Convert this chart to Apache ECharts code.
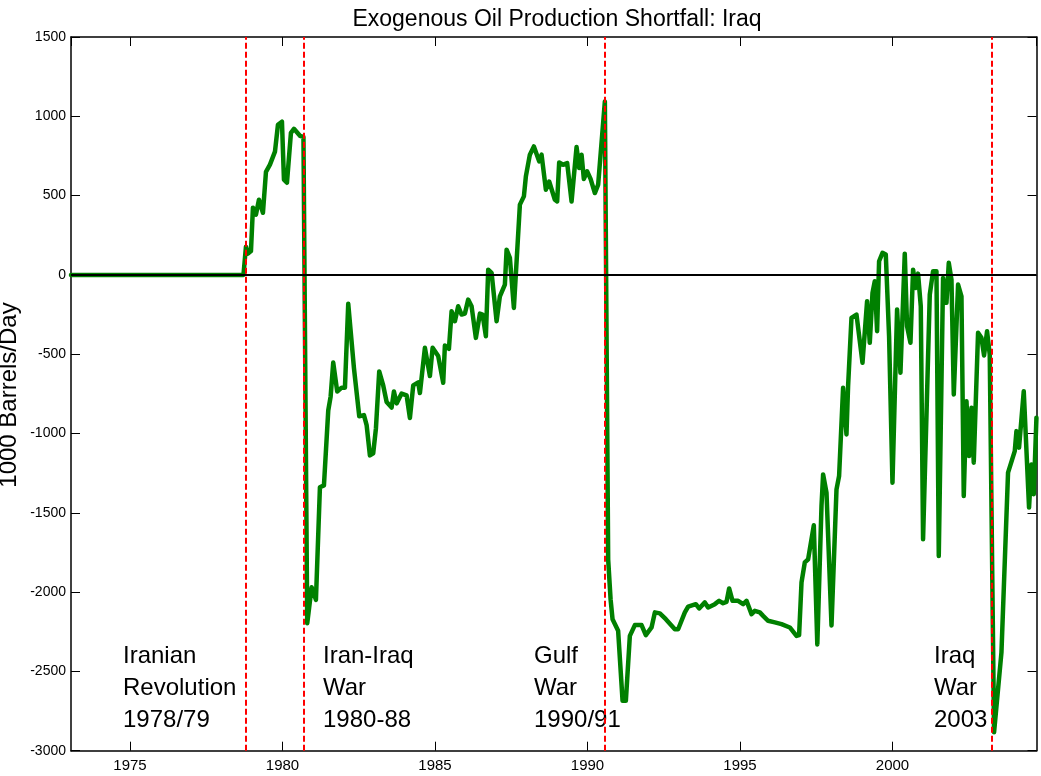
<!DOCTYPE html>
<html>
<head>
<meta charset="utf-8">
<title>Exogenous Oil Production Shortfall: Iraq</title>
<script src="https://cdn.jsdelivr.net/npm/echarts@6/dist/echarts.min.js"></script>
<style>
  html, body { margin: 0; padding: 0; background: #fff; }
  #chart { width: 1041px; height: 776px; }
</style>
</head>
<body>
<div id="chart"></div>
<script>
// ---- data ----
const chartTitle = 'Exogenous Oil Production Shortfall: Iraq';
const yAxisTitle = '1000 Barrels/Day';

// [decimal year, shortfall in 1000 barrels/day]
const shortfall = [
  [1973.066,0],[1978.720,0],[1978.802,178],[1978.868,134],[1978.966,150],[1979.031,424],[1979.130,380],
  [1979.228,474],[1979.359,392],[1979.458,650],[1979.589,695],[1979.753,777],[1979.851,946],[1979.982,966],
  [1980.048,600],[1980.146,581],[1980.277,896],[1980.375,921],[1980.572,877],[1980.687,870],
  [1980.811,-2196],[1980.955,-1969],[1981.096,-2049],[1981.227,-1339],[1981.359,-1327],[1981.500,-855],
  [1981.578,-767],[1981.663,-553],[1981.794,-735],[1981.939,-711],[1982.047,-711],[1982.155,-182],
  [1982.342,-587],[1982.516,-891],[1982.670,-884],[1982.758,-947],[1982.866,-1138],[1982.974,-1125],
  [1983.063,-968],[1983.171,-609],[1983.302,-697],[1983.414,-801],[1983.578,-836],[1983.653,-735],
  [1983.741,-810],[1983.905,-748],[1984.069,-760],[1984.177,-902],[1984.286,-697],[1984.449,-678],
  [1984.505,-745],[1984.669,-460],[1984.833,-638],[1984.921,-460],[1985.105,-512],[1985.269,-680],
  [1985.324,-445],[1985.456,-466],[1985.544,-229],[1985.652,-292],[1985.760,-198],[1985.872,-250],
  [1985.980,-244],[1986.088,-156],[1986.199,-198],[1986.340,-397],[1986.472,-244],[1986.560,-250],
  [1986.668,-387],[1986.744,33],[1986.855,13],[1987.019,-292],[1987.127,-135],[1987.291,-61],
  [1987.347,159],[1987.455,107],[1987.511,107],[1987.586,-208],[1987.783,443],[1987.914,495],
  [1987.979,621],[1988.110,758],[1988.242,810],[1988.415,716],[1988.494,758],[1988.635,537],
  [1988.743,589],[1988.930,474],[1989.005,463],[1989.071,709],[1989.202,695],[1989.333,705],
  [1989.477,463],[1989.641,806],[1989.726,674],[1989.805,758],[1989.880,605],[1989.989,653],
  [1990.100,605],[1990.241,516],[1990.349,569],[1990.569,1093],
  [1990.677,-1793],[1990.756,-2045],[1990.821,-2171],[1991.004,-2244],[1991.149,-2685],[1991.257,-2685],
  [1991.388,-2276],[1991.552,-2208],[1991.772,-2208],[1991.912,-2271],[1992.099,-2223],[1992.208,-2128],
  [1992.371,-2134],[1992.568,-2171],[1992.863,-2234],[1992.971,-2234],[1993.191,-2128],[1993.299,-2091],
  [1993.551,-2076],[1993.660,-2103],[1993.846,-2065],[1993.954,-2097],[1994.174,-2076],[1994.315,-2055],
  [1994.446,-2070],[1994.557,-2062],[1994.643,-1977],[1994.754,-2055],[1994.938,-2055],[1995.102,-2076],
  [1995.213,-2055],[1995.377,-2139],[1995.485,-2118],[1995.649,-2128],[1995.757,-2150],[1995.921,-2181],
  [1996.141,-2191],[1996.360,-2202],[1996.632,-2223],[1996.852,-2276],[1996.937,-2271],[1997.016,-1939],
  [1997.124,-1813],[1997.232,-1793],[1997.419,-1579],[1997.534,-2330],[1997.671,-1457],[1997.724,-1258],
  [1997.835,-1373],[1997.999,-2210],[1998.163,-1352],[1998.248,-1268],[1998.379,-712],[1998.490,-1006],
  [1998.543,-701],[1998.654,-271],[1998.818,-250],[1999.015,-554],[1999.166,-166],[1999.254,-428],
  [1999.343,-113],[1999.418,-40],[1999.494,-355],[1999.559,86],[1999.671,139],[1999.779,128],
  [1999.887,-387],[1999.998,-1310],[2000.149,-218],[2000.260,-617],[2000.401,134],[2000.477,-324],
  [2000.588,-428],[2000.674,33],[2000.762,-82],[2000.837,8],[2000.926,-198],[2001.001,-1667],
  [2001.221,-124],[2001.329,23],[2001.440,23],[2001.516,-1772],[2001.657,-19],[2001.768,-176],
  [2001.844,76],[2001.932,-30],[2002.008,-754],[2002.149,-61],[2002.260,-135],[2002.335,-1394],
  [2002.424,-796],[2002.509,-1142],[2002.588,-838],[2002.663,-1184],[2002.804,-365],[2002.915,-397],
  [2003.001,-508],[2003.099,-355],[2003.187,-502],[2003.329,-2884],[2003.571,-2380],[2003.787,-1247],
  [2004.007,-1111],[2004.062,-985],[2004.148,-1089],[2004.302,-733],[2004.476,-1467],[2004.554,-1195],
  [2004.630,-1383],[2004.718,-900]
];

// event dates (vertical dashed lines) and their labels
const eventDates = [1978.802, 1980.703, 1990.569, 2003.243];
const eventLabels = [
  'Iranian\nRevolution\n1978/79',
  'Iran-Iraq\nWar\n1980-88',
  'Gulf\nWar\n1990/91',
  'Iraq\nWar\n2003'
];

// axis ranges and ticks
const xRange = [1973.066, 2004.72];
const xTickStep = 5;
const yRange = [-3000, 1500];
const yTickStep = 500;

// ---- chart ----
const FONT = "'Liberation Sans', Arial, Helvetica, sans-serif";
const chart = echarts.init(document.getElementById('chart'), null, { renderer: 'canvas' });

const labelLeft = [123, 323, 534, 934];
const labelTop = 641;

function tickCfg() {
  return { show: true, inside: true, length: 9, interval: 0, lineStyle: { color: '#000', width: 1, opacity: 1 } };
}
function lineCfg() {
  return { show: true, onZero: false, lineStyle: { color: '#000', width: 1.5 } };
}
const isMultiple = (v, step) => Math.abs(v / step - Math.round(v / step)) < 1e-6;

const option = {
  animation: false,
  backgroundColor: '#fff',
  title: {
    text: chartTitle,
    left: 552, top: 3, textAlign: 'center',
    textStyle: { fontFamily: FONT, fontSize: 23, fontWeight: 'normal', color: '#000' }
  },
  grid: { left: 71, right: 4.5, top: 37, bottom: 25.3, containLabel: false },
  xAxis: [
    {
      type: 'value', position: 'bottom', min: xRange[0], max: xRange[1],
      minInterval: xTickStep, maxInterval: xTickStep,
      splitLine: { show: false }, axisLine: lineCfg(), axisTick: tickCfg(),
      axisLabel: {
        show: true, margin: 8, color: '#000', fontFamily: FONT, fontSize: 15,
        showMinLabel: false, showMaxLabel: false,
        formatter: v => (isMultiple(v, xTickStep) ? String(Math.round(v)) : '')
      }
    },
    {
      type: 'value', position: 'top', min: xRange[0], max: xRange[1],
      minInterval: xTickStep, maxInterval: xTickStep,
      splitLine: { show: false }, axisLine: lineCfg(), axisTick: tickCfg(),
      axisLabel: { show: false }
    }
  ],
  yAxis: [
    {
      type: 'value', position: 'left', min: yRange[0], max: yRange[1], interval: yTickStep,
      splitLine: { show: false }, axisLine: lineCfg(), axisTick: tickCfg(),
      axisLabel: { show: true, margin: 5, color: '#000', fontFamily: FONT, fontSize: 14, formatter: v => String(v) }
    },
    {
      type: 'value', position: 'right', min: yRange[0], max: yRange[1], interval: yTickStep,
      splitLine: { show: false }, axisLine: lineCfg(), axisTick: tickCfg(),
      axisLabel: { show: false }
    }
  ],
  graphic: [
    {
      type: 'text',
      x: 9, y: 395, rotation: Math.PI / 2,
      style: {
        text: yAxisTitle, fill: '#000', font: '24px ' + FONT,
        textAlign: 'center', textVerticalAlign: 'middle'
      }
    }
  ].concat(eventLabels.map((t, i) => ({
    type: 'text',
    x: labelLeft[i], y: labelTop,
    style: {
      text: t, fill: '#000', font: '24px ' + FONT,
      lineHeight: 31.7, textAlign: 'left', textVerticalAlign: 'top'
    }
  }))),
  series: [
    {
      name: 'zero', type: 'line', data: [], z: 1,
      xAxisIndex: 1, yAxisIndex: 1,
      markLine: {
        silent: true, symbol: 'none', animation: false,
        label: { show: false },
        lineStyle: { color: '#000', width: 2, type: 'solid' },
        data: [{ yAxis: 0 }]
      }
    },
    {
      name: 'Shortfall', type: 'line', data: shortfall, z: 2,
      xAxisIndex: 0, yAxisIndex: 0,
      showSymbol: false, symbol: 'none', smooth: false,
      lineStyle: { color: '#008000', width: 4.5, join: 'round', cap: 'round' },
      itemStyle: { color: '#008000' }
    },
    {
      name: 'events', type: 'line', data: [], z: 3,
      xAxisIndex: 0, yAxisIndex: 0,
      markLine: {
        silent: true, symbol: 'none', animation: false,
        label: { show: false },
        lineStyle: { color: '#ff0000', width: 2, type: [6, 3] },
        data: eventDates.map(d => ({ xAxis: d }))
      }
    }
  ]
};
chart.setOption(option);
</script>
</body>
</html>
